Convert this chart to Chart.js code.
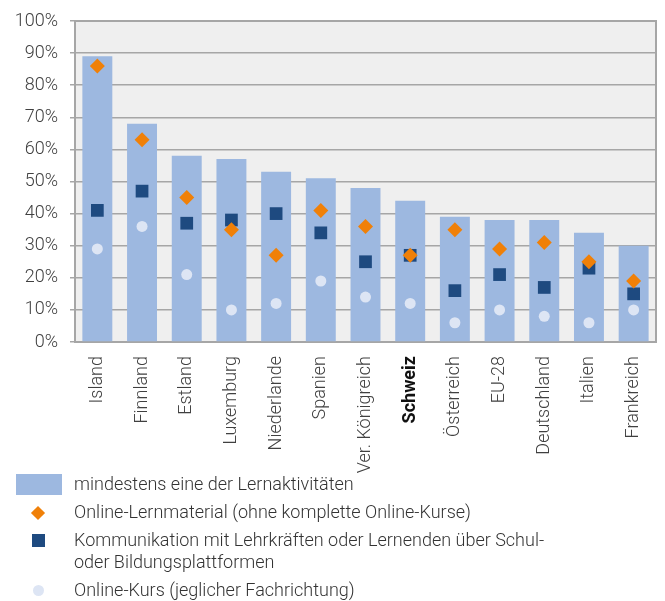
<!DOCTYPE html>
<html>
<head>
<meta charset="utf-8">
<script src="https://cdn.jsdelivr.net/npm/chart.js@4/dist/chart.umd.min.js"></script>
<style>
  html, body { margin: 0; padding: 0; background: #fff; }
  body { width: 665px; height: 601px; position: relative; overflow: hidden; font-family: Roboto, sans-serif; }
  #wrap { position: absolute; left: 0; top: 0; width: 665px; height: 480px; }
  .leg { position: absolute; left: 74px; font-size: 18px; font-weight: 300; color: #333; line-height: 22px; white-space: nowrap; }
  .sw { position: absolute; }
</style>
</head>
<body>
<div id="wrap"><canvas id="chart" width="665" height="480"></canvas></div>

<div class="sw" style="left:16px;top:474px;width:46px;height:21px;background:#9db8e0"></div>
<div class="leg" style="top:473px">mindestens eine der Lernaktivitäten</div>

<div class="sw" style="left:33px;top:508px;width:10px;height:10px;background:#f08008;transform:rotate(45deg)"></div>
<div class="leg" style="top:501px">Online-Lernmaterial (ohne komplette Online-Kurse)</div>

<div class="sw" style="left:32px;top:534px;width:13px;height:13px;background:#1e4a80"></div>
<div class="leg" style="top:529px">Kommunikation mit Lehrkräften oder Lernenden über Schul-<br>oder Bildungsplattformen</div>

<div class="sw" style="left:33px;top:585px;width:11px;height:11px;border-radius:50%;background:#dde5f4"></div>
<div class="leg" style="top:579px">Online-Kurs (jeglicher Fachrichtung)</div>

<script>
// ============ DATA ============
const countries = ['Island', 'Finnland', 'Estland', 'Luxemburg', 'Niederlande', 'Spanien',
    'Ver. Königreich', 'Schweiz', 'Österreich', 'EU-28', 'Deutschland', 'Italien', 'Frankreich'];
const anyActivity   = [89, 68, 58, 57, 53, 51, 48, 44, 39, 38, 38, 34, 30];
const onlineMaterial = [86, 63, 45, 35, 27, 41, 36, 27, 35, 29, 31, 25, 19];
const communication = [41, 47, 37, 38, 40, 34, 25, 27, 16, 21, 17, 23, 15];
const onlineCourse  = [29, 36, 21, 10, 12, 19, 14, 12, 6, 10, 8, 6, 10];
const yTicks = [0, 10, 20, 30, 40, 50, 60, 70, 80, 90, 100];

// plot background + frame
const plotFrame = {
    id: 'plotFrame',
    beforeDraw(chart) {
        const { ctx, chartArea: a } = chart;
        ctx.save();
        ctx.fillStyle = '#efefef';
        ctx.fillRect(a.left, a.top, a.right - a.left, a.bottom - a.top);
        ctx.restore();
    },
    beforeDatasetsDraw(chart) {
        const { ctx, chartArea: a } = chart;
        ctx.save();
        ctx.strokeStyle = '#a6a6a6';
        ctx.lineWidth = 2;
        ctx.strokeRect(a.left, a.top, a.right - a.left, a.bottom - a.top);
        ctx.restore();
    }
};

const markerSet = (label, data, style, color, radius, order) => ({
    type: 'line',
    label,
    data,
    showLine: false,
    pointStyle: style,
    pointRadius: radius,
    pointHoverRadius: radius,
    pointBackgroundColor: color,
    pointBorderColor: color,
    pointBorderWidth: 0,
    order
});

new Chart(document.getElementById('chart'), {
    data: {
        labels: countries,
        datasets: [
            markerSet('Online-Lernmaterial (ohne komplette Online-Kurse)', onlineMaterial, 'rectRot', '#f08008', 7.5, 0),
            markerSet('Kommunikation mit Lehrkräften oder Lernenden über Schul- oder Bildungsplattformen', communication, 'rect', '#1e4a80', 9, 1),
            markerSet('Online-Kurs (jeglicher Fachrichtung)', onlineCourse, 'circle', '#dde5f4', 5.5, 2),
            {
                type: 'bar',
                label: 'mindestens eine der Lernaktivitäten',
                data: anyActivity,
                backgroundColor: '#9db8e0',
                borderWidth: 0,
                barPercentage: 0.67,
                categoryPercentage: 1,
                order: 3
            }
        ]
    },
    options: {
        responsive: false,
        animation: false,
        layout: { padding: { top: 18, right: 8, left: 0, bottom: 0 } },
        plugins: { legend: { display: false }, tooltip: { enabled: false } },
        scales: {
            x: {
                grid: { display: false },
                border: { color: '#a6a6a6', width: 2 },
                afterFit: s => { s.height = 138; },
                ticks: {
                    minRotation: 90,
                    maxRotation: 90,
                    autoSkip: false,
                    padding: 6,
                    color: ctx => countries[ctx.index] === 'Schweiz' ? '#111' : '#404040',
                    font: ctx => ({
                        family: 'Roboto',
                        size: 18,
                        weight: countries[ctx.index] === 'Schweiz' ? 'bold' : '300'
                    })
                }
            },
            y: {
                min: 0,
                max: 100,
                afterFit: s => { s.width = 75; },
                afterBuildTicks: s => { s.ticks = yTicks.map(v => ({ value: v })); },
                grid: { color: '#a6a6a6', lineWidth: 1.5, drawTicks: true, tickLength: 5 },
                border: { color: '#a6a6a6', width: 2 },
                ticks: {
                    padding: 12,
                    color: '#404040',
                    font: { family: 'Roboto', size: 18, weight: '300', lineHeight: 1 },
                    callback: v => v + '%'
                }
            }
        }
    },
    plugins: [plotFrame]
});
</script>
</body>
</html>
